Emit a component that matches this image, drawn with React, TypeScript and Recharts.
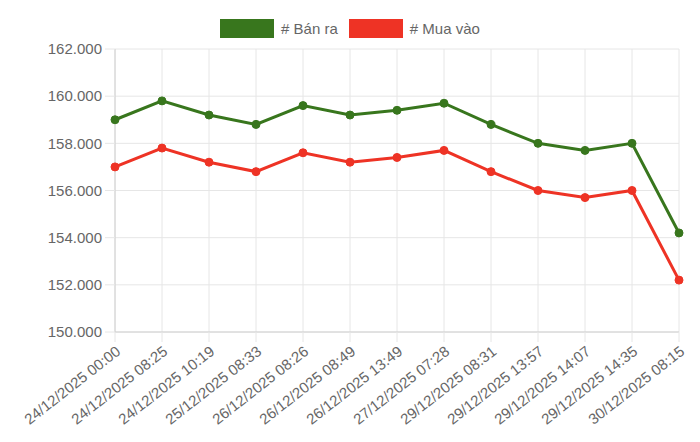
import React from 'react';
import { LineChart, Line, XAxis, YAxis, CartesianGrid, Legend } from 'recharts';

const times = [
  '24/12/2025 00:00',
  '24/12/2025 08:25',
  '24/12/2025 10:19',
  '25/12/2025 08:33',
  '26/12/2025 08:26',
  '26/12/2025 08:49',
  '26/12/2025 13:49',
  '27/12/2025 07:28',
  '29/12/2025 08:31',
  '29/12/2025 13:57',
  '29/12/2025 14:07',
  '29/12/2025 14:35',
  '30/12/2025 08:15',
];

const banRa = [159000, 159800, 159200, 158800, 159600, 159200, 159400, 159700, 158800, 158000, 157700, 158000, 154200];
const muaVao = [157000, 157800, 157200, 156800, 157600, 157200, 157400, 157700, 156800, 156000, 155700, 156000, 152200];

const yTicks = [150000, 152000, 154000, 156000, 158000, 160000, 162000];

const GREEN = '#38761d';
const RED = '#ee3325';
const FONT = '"Liberation Sans", Arial, Helvetica, sans-serif';

const data = times.map((t, i) => ({ time: t, banRa: banRa[i], muaVao: muaVao[i] }));

// 162000 -> "162.000"
const fmt = (v: number) => String(v).replace(/\B(?=(\d{3})+(?!\d))/g, '.');

const legendItems = [
  { label: '# Bán ra', color: GREEN },
  { label: '# Mua vào', color: RED },
];

function LegendContent() {
  return (
    <div style={{ height: 30, display: 'flex', justifyContent: 'center', fontFamily: FONT, fontSize: 15, color: '#666' }}>
      {legendItems.map((it, i) => (
        <div key={it.label} style={{ display: 'flex', alignItems: 'flex-start', marginLeft: i ? 11 : 0 }}>
          <span style={{ width: 52, height: 17, background: it.color, border: `1px solid ${it.color}`, marginRight: 7 }} />
          <span style={{ lineHeight: '19px' }}>{it.label}</span>
        </div>
      ))}
    </div>
  );
}

function XTick({ x, y, payload }: any) {
  return (
    <text
      x={x}
      y={y}
      transform={`rotate(-38, ${x}, ${y})`}
      textAnchor="end"
      dy="0.7em"
      dx={0}
      fontSize={15}
      fontFamily={FONT}
      fill="#666"
    >
      {payload.value}
    </text>
  );
}

export default function App() {
  return (
    <div style={{ position: 'absolute', left: 0, top: 0, width: 700, height: 442, background: '#fff' }}>
      <LineChart width={700} height={442} data={data} margin={{ top: 19, right: 21, bottom: 0, left: 0 }}>
        <Legend
          verticalAlign="top"
          align="center"
          content={<LegendContent />}
          wrapperStyle={{ left: 0, width: 700 }}
        />
        <CartesianGrid stroke="#e6e6e6" />
        <XAxis
          dataKey="time"
          interval={0}
          height={110}
          tickSize={10}
          tickMargin={3}
          stroke="#d0d0d0"
          tickLine={{ stroke: '#e6e6e6' }}
          tick={<XTick />}
        />
        <YAxis
          width={115}
          domain={[150000, 162000]}
          ticks={yTicks}
          tickFormatter={fmt}
          tickSize={10}
          tickMargin={3}
          stroke="#d0d0d0"
          tickLine={{ stroke: '#e6e6e6' }}
          tick={{ fontSize: 15, fontFamily: FONT, fill: '#666' }}
        />
        <Line
          dataKey="banRa"
          name="# Bán ra"
          stroke={GREEN}
          strokeWidth={3}
          dot={{ r: 4, fill: GREEN, stroke: GREEN, strokeWidth: 1 }}
          isAnimationActive={false}
        />
        <Line
          dataKey="muaVao"
          name="# Mua vào"
          stroke={RED}
          strokeWidth={3}
          dot={{ r: 4, fill: RED, stroke: RED, strokeWidth: 1 }}
          isAnimationActive={false}
        />
      </LineChart>
    </div>
  );
}
